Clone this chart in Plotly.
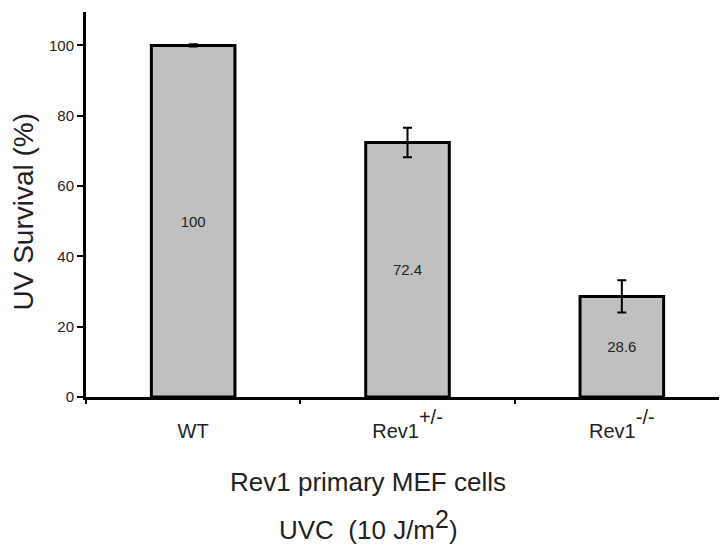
import plotly.graph_objects as go

SUP = "<sup><sup><span style='font-size:20px'>{}</span></sup></sup>"
categories = ["WT", "Rev1" + SUP.format("+/-"), "Rev1" + SUP.format("-/-")]
survival = [100, 72.4, 28.6]
errors = [0.3, 4.2, 4.6]
bar_labels = ["100", "72.4", "28.6"]
y_ticks = [0, 20, 40, 60, 80, 100]
y_title = "UV Survival (%)"
x_title_1 = "Rev1 primary MEF cells"
x_title_2 = "UVC  (10 J/m<sup><span style='font-size:25px'>2</span></sup>)"

FONT = "Arial, Liberation Sans, Helvetica, sans-serif"
TXT = "#222"

fig = go.Figure()
fig.add_trace(go.Bar(
    x=categories, y=survival,
    width=0.39,
    marker=dict(color="#c0c0c0", line=dict(color="black", width=3)),
    error_y=dict(type="data", array=errors, visible=True, color="black", thickness=2, width=4.5),
    text=bar_labels, textposition="inside", insidetextanchor="middle",
    textfont=dict(family=FONT, size=15, color=TXT),
    textangle=0,
))

fig.update_layout(
    width=727, height=548,
    margin=dict(l=78, r=6, t=4, b=159, autoexpand=False),
    paper_bgcolor="white", plot_bgcolor="white",
    showlegend=False,
    font=dict(family=FONT, color=TXT),
    xaxis=dict(
        range=[-0.5, 2.5], type="category",
        showline=True, linecolor="black", linewidth=3,
        ticks="outside", tickson="boundaries", ticklen=4, tickwidth=2, tickcolor="black",
        tickfont=dict(size=20, color=TXT),
        ticklabelstandoff=14,
        showgrid=False, zeroline=False,
    ),
    yaxis=dict(
        range=[0, 109.5],
        tickvals=y_ticks,
        showline=True, linecolor="black", linewidth=3,
        ticks="outside", ticklen=6, tickwidth=2, tickcolor="black",
        tickfont=dict(size=15, color=TXT),
        showgrid=False, zeroline=False,
    ),
    annotations=[
        dict(text=y_title, xref="paper", yref="paper", x=0, y=0.5,
             xanchor="center", yanchor="middle", xshift=-63, yshift=-7,
             textangle=-90, showarrow=False, font=dict(size=28, color=TXT)),
        dict(text=x_title_1, xref="paper", yref="paper", x=0, y=0,
             xanchor="center", yanchor="middle", xshift=282, yshift=-85,
             showarrow=False, font=dict(size=26, color=TXT)),
        dict(text=x_title_2, xref="paper", yref="paper", x=0, y=0,
             xanchor="center", yanchor="middle", xshift=282, yshift=-128,
             showarrow=False, font=dict(size=26, color=TXT)),
    ],
)

fig.write_html("out.html")
